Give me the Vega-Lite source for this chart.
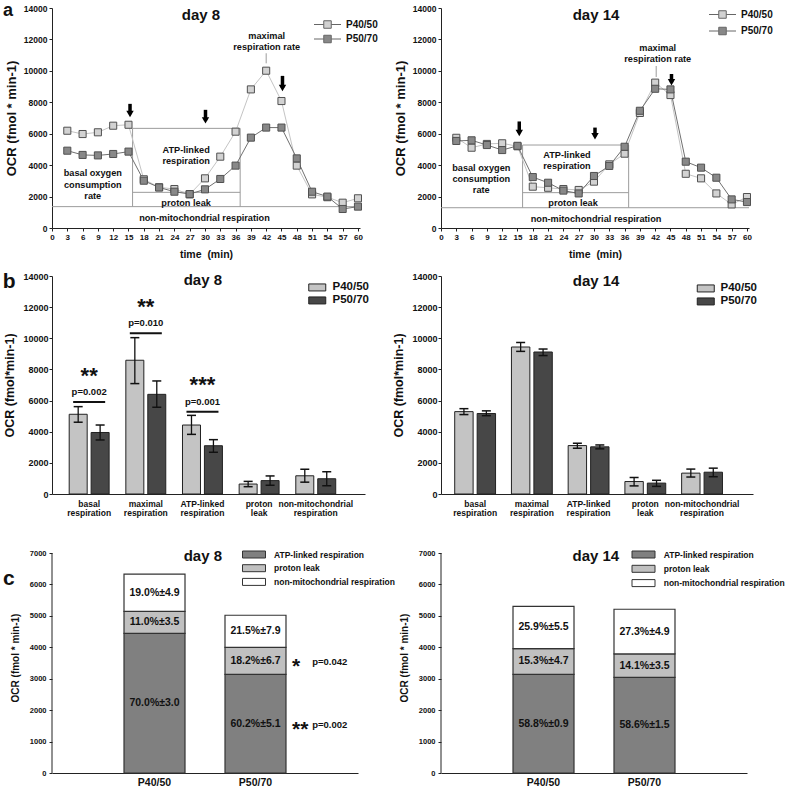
{
  "$schema": "https://vega.github.io/schema/vega-lite/v6.json",
  "padding": {"left": 2, "top": 2, "right": 2, "bottom": 2},
  "background": "white",
  "config": {
    "view": {"stroke": null},
    "font": "Liberation Sans",
    "axis": {"grid": false, "labelFontWeight": "bold", "titleFontWeight": "bold", "labelColor": "#111", "titleColor": "#111", "domainColor": "#222", "tickColor": "#222", "labelFlush": false, "labelOverlap": false, "labelFont": "Liberation Sans", "titleFont": "Liberation Sans"},
    "legend": {"labelFontWeight": "bold", "labelFont": "Liberation Sans", "labelColor": "#111", "padding": 0},
    "text": {"font": "Liberation Sans", "fontWeight": "bold", "color": "#111"}
  },
  "datasets": {
    "lines": [
      {"d":"day 8","g":"P40/50","t":3,"v":6190},{"d":"day 8","g":"P40/50","t":6,"v":5980},{"d":"day 8","g":"P40/50","t":9,"v":6090},{"d":"day 8","g":"P40/50","t":12,"v":6510},{"d":"day 8","g":"P40/50","t":15,"v":6570},{"d":"day 8","g":"P40/50","t":18,"v":3100},{"d":"day 8","g":"P40/50","t":21,"v":2590},{"d":"day 8","g":"P40/50","t":24,"v":2480},{"d":"day 8","g":"P40/50","t":27,"v":2140},{"d":"day 8","g":"P40/50","t":30,"v":3160},{"d":"day 8","g":"P40/50","t":33,"v":4540},{"d":"day 8","g":"P40/50","t":36,"v":6130},{"d":"day 8","g":"P40/50","t":39,"v":8820},{"d":"day 8","g":"P40/50","t":42,"v":10010},{"d":"day 8","g":"P40/50","t":45,"v":8080},{"d":"day 8","g":"P40/50","t":48,"v":3970},{"d":"day 8","g":"P40/50","t":51,"v":2140},{"d":"day 8","g":"P40/50","t":54,"v":1960},{"d":"day 8","g":"P40/50","t":57,"v":1610},{"d":"day 8","g":"P40/50","t":60,"v":1890},
      {"d":"day 8","g":"P50/70","t":3,"v":4920},{"d":"day 8","g":"P50/70","t":6,"v":4650},{"d":"day 8","g":"P50/70","t":9,"v":4620},{"d":"day 8","g":"P50/70","t":12,"v":4710},{"d":"day 8","g":"P50/70","t":15,"v":4860},{"d":"day 8","g":"P50/70","t":18,"v":3010},{"d":"day 8","g":"P50/70","t":21,"v":2580},{"d":"day 8","g":"P50/70","t":24,"v":2310},{"d":"day 8","g":"P50/70","t":27,"v":2160},{"d":"day 8","g":"P50/70","t":30,"v":2460},{"d":"day 8","g":"P50/70","t":33,"v":3120},{"d":"day 8","g":"P50/70","t":36,"v":3970},{"d":"day 8","g":"P50/70","t":39,"v":5750},{"d":"day 8","g":"P50/70","t":42,"v":6390},{"d":"day 8","g":"P50/70","t":45,"v":6390},{"d":"day 8","g":"P50/70","t":48,"v":4430},{"d":"day 8","g":"P50/70","t":51,"v":2310},{"d":"day 8","g":"P50/70","t":54,"v":2000},{"d":"day 8","g":"P50/70","t":57,"v":1210},{"d":"day 8","g":"P50/70","t":60,"v":1360},
      {"d":"day 14","g":"P40/50","t":3,"v":5740},{"d":"day 14","g":"P40/50","t":6,"v":5110},{"d":"day 14","g":"P40/50","t":9,"v":5350},{"d":"day 14","g":"P40/50","t":12,"v":5390},{"d":"day 14","g":"P40/50","t":15,"v":5200},{"d":"day 14","g":"P40/50","t":18,"v":2630},{"d":"day 14","g":"P40/50","t":21,"v":2560},{"d":"day 14","g":"P40/50","t":24,"v":2480},{"d":"day 14","g":"P40/50","t":27,"v":2420},{"d":"day 14","g":"P40/50","t":30,"v":2950},{"d":"day 14","g":"P40/50","t":33,"v":4050},{"d":"day 14","g":"P40/50","t":36,"v":4730},{"d":"day 14","g":"P40/50","t":39,"v":7320},{"d":"day 14","g":"P40/50","t":42,"v":9250},{"d":"day 14","g":"P40/50","t":45,"v":8460},{"d":"day 14","g":"P40/50","t":48,"v":3450},{"d":"day 14","g":"P40/50","t":51,"v":3160},{"d":"day 14","g":"P40/50","t":54,"v":2200},{"d":"day 14","g":"P40/50","t":57,"v":1500},{"d":"day 14","g":"P40/50","t":60,"v":1970},
      {"d":"day 14","g":"P50/70","t":3,"v":5540},{"d":"day 14","g":"P50/70","t":6,"v":5580},{"d":"day 14","g":"P50/70","t":9,"v":5280},{"d":"day 14","g":"P50/70","t":12,"v":4960},{"d":"day 14","g":"P50/70","t":15,"v":5230},{"d":"day 14","g":"P50/70","t":18,"v":3240},{"d":"day 14","g":"P50/70","t":21,"v":2880},{"d":"day 14","g":"P50/70","t":24,"v":2380},{"d":"day 14","g":"P50/70","t":27,"v":2200},{"d":"day 14","g":"P50/70","t":30,"v":3310},{"d":"day 14","g":"P50/70","t":33,"v":3950},{"d":"day 14","g":"P50/70","t":36,"v":5170},{"d":"day 14","g":"P50/70","t":39,"v":7460},{"d":"day 14","g":"P50/70","t":42,"v":8860},{"d":"day 14","g":"P50/70","t":45,"v":8820},{"d":"day 14","g":"P50/70","t":48,"v":4220},{"d":"day 14","g":"P50/70","t":51,"v":3840},{"d":"day 14","g":"P50/70","t":54,"v":3200},{"d":"day 14","g":"P50/70","t":57,"v":1820},{"d":"day 14","g":"P50/70","t":60,"v":1650}
    ],
    "aLines": [
      {"d":"day 8","x":15.8,"x2":36.9,"y":6340,"y2":6340},{"d":"day 8","x":15.8,"x2":36.9,"y":2270,"y2":2270},{"d":"day 8","x":0,"x2":60.4,"y":1360,"y2":1360},{"d":"day 8","x":15.8,"x2":15.8,"y":1360,"y2":6340},{"d":"day 8","x":36.9,"x2":36.9,"y":1360,"y2":6340},{"d":"day 8","x":42.0,"x2":42.0,"y":10480,"y2":11120},
      {"d":"day 14","x":16.0,"x2":36.8,"y":5280,"y2":5280},{"d":"day 14","x":16.0,"x2":36.8,"y":2250,"y2":2250},{"d":"day 14","x":0,"x2":60.4,"y":1290,"y2":1290},{"d":"day 14","x":16.0,"x2":16.0,"y":1290,"y2":5280},{"d":"day 14","x":36.8,"x2":36.8,"y":1290,"y2":5280},{"d":"day 14","x":42.2,"x2":42.2,"y":9610,"y2":10310}
    ],
    "arrows": [
      {"d":"day 8","t":15.3,"top":7900,"head":7250},{"d":"day 8","t":30.1,"top":7520,"head":6850},{"d":"day 8","t":45.2,"top":9680,"head":8910},
      {"d":"day 14","t":15.35,"top":6780,"head":6050},{"d":"day 14","t":30.2,"top":6390,"head":5840},{"d":"day 14","t":45.2,"top":9800,"head":9270}
    ],
    "aText": [
      {"d":"day 8","t":42.1,"y":12240,"text":"maximal|respiration rate"},
      {"d":"day 8","t":26.3,"y":4960,"text":"ATP-linked|respiration"},
      {"d":"day 8","t":8.0,"y":3470,"text":"basal oxygen|consumption|rate"},
      {"d":"day 8","t":26.3,"y":1610,"text":"proton leak"},
      {"d":"day 8","t":29.9,"y":617,"text":"non-mitochondrial respiration"},
      {"d":"day 14","t":42.5,"y":11475,"text":"maximal|respiration rate"},
      {"d":"day 14","t":24.7,"y":4670,"text":"ATP-linked|respiration"},
      {"d":"day 14","t":7.9,"y":3820,"text":"basal oxygen|consumption|rate"},
      {"d":"day 14","t":25.9,"y":1590,"text":"proton leak"},
      {"d":"day 14","t":30.4,"y":553,"text":"non-mitochondrial respiration"}
    ],
    "bars": [
      {"d":"day 8","cat":"basal respiration","g":"P40/50","v":5120,"lo":4610,"hi":5610},
      {"d":"day 8","cat":"basal respiration","g":"P50/70","v":3950,"lo":3470,"hi":4430},
      {"d":"day 8","cat":"maximal respiration","g":"P40/50","v":8590,"lo":7090,"hi":10040},
      {"d":"day 8","cat":"maximal respiration","g":"P50/70","v":6400,"lo":5570,"hi":7260},
      {"d":"day 8","cat":"ATP-linked respiration","g":"P40/50","v":4430,"lo":3830,"hi":5050},
      {"d":"day 8","cat":"ATP-linked respiration","g":"P50/70","v":3100,"lo":2680,"hi":3490},
      {"d":"day 8","cat":"proton leak","g":"P40/50","v":640,"lo":470,"hi":810},
      {"d":"day 8","cat":"proton leak","g":"P50/70","v":860,"lo":560,"hi":1160},
      {"d":"day 8","cat":"non-mitochondrial respiration","g":"P40/50","v":1170,"lo":760,"hi":1590},
      {"d":"day 8","cat":"non-mitochondrial respiration","g":"P50/70","v":980,"lo":530,"hi":1430},
      {"d":"day 14","cat":"basal respiration","g":"P40/50","v":5290,"lo":5100,"hi":5480},
      {"d":"day 14","cat":"basal respiration","g":"P50/70","v":5170,"lo":5030,"hi":5340},
      {"d":"day 14","cat":"maximal respiration","g":"P40/50","v":9440,"lo":9160,"hi":9730},
      {"d":"day 14","cat":"maximal respiration","g":"P50/70","v":9120,"lo":8890,"hi":9310},
      {"d":"day 14","cat":"ATP-linked respiration","g":"P40/50","v":3110,"lo":2940,"hi":3260},
      {"d":"day 14","cat":"ATP-linked respiration","g":"P50/70","v":3030,"lo":2900,"hi":3150},
      {"d":"day 14","cat":"proton leak","g":"P40/50","v":800,"lo":520,"hi":1060},
      {"d":"day 14","cat":"proton leak","g":"P50/70","v":700,"lo":490,"hi":880},
      {"d":"day 14","cat":"non-mitochondrial respiration","g":"P40/50","v":1340,"lo":1090,"hi":1600},
      {"d":"day 14","cat":"non-mitochondrial respiration","g":"P50/70","v":1400,"lo":1110,"hi":1660}
    ],
    "sig": [
      {"cat":"basal respiration","ys":7960,"yp":6550,"yl":5910,"stars":"**","p":"p=0.002"},
      {"cat":"maximal respiration","ys":12350,"yp":10960,"yl":10320,"stars":"**","p":"p=0.010"},
      {"cat":"ATP-linked respiration","ys":7370,"yp":5910,"yl":5290,"stars":"***","p":"p=0.001"}
    ],
    "stack": [
      {"d":"day 8","g":"P40/50","comp":"ATP-linked respiration","k":1,"v":4440,"label":"70.0%±3.0"},
      {"d":"day 8","g":"P40/50","comp":"proton leak","k":2,"v":700,"label":"11.0%±3.5"},
      {"d":"day 8","g":"P40/50","comp":"non-mitochondrial respiration","k":3,"v":1190,"label":"19.0%±4.9"},
      {"d":"day 8","g":"P50/70","comp":"ATP-linked respiration","k":1,"v":3140,"label":"60.2%±5.1"},
      {"d":"day 8","g":"P50/70","comp":"proton leak","k":2,"v":860,"label":"18.2%±6.7"},
      {"d":"day 8","g":"P50/70","comp":"non-mitochondrial respiration","k":3,"v":1020,"label":"21.5%±7.9"},
      {"d":"day 14","g":"P40/50","comp":"ATP-linked respiration","k":1,"v":3140,"label":"58.8%±0.9"},
      {"d":"day 14","g":"P40/50","comp":"proton leak","k":2,"v":820,"label":"15.3%±4.7"},
      {"d":"day 14","g":"P40/50","comp":"non-mitochondrial respiration","k":3,"v":1340,"label":"25.9%±5.5"},
      {"d":"day 14","g":"P50/70","comp":"ATP-linked respiration","k":1,"v":3040,"label":"58.6%±1.5"},
      {"d":"day 14","g":"P50/70","comp":"proton leak","k":2,"v":750,"label":"14.1%±3.5"},
      {"d":"day 14","g":"P50/70","comp":"non-mitochondrial respiration","k":3,"v":1420,"label":"27.3%±4.9"}
    ],
    "cSig": [
      {"g":"P50/70","y":3530,"stars":"*","p":"p=0.042"},
      {"g":"P50/70","y":1540,"stars":"**","p":"p=0.002"}
    ]
  },
  "columns": 2,
  "spacing": {"row": 48, "column": 76},
  "bounds": "flush",
  "resolve": {"scale": {"x": "independent", "y": "independent", "color": "independent", "fill": "independent", "stroke": "independent", "xOffset": "independent"}, "legend": {"color": "independent", "fill": "independent", "stroke": "independent"}},
  "concat": [
    {
      "width": 308, "height": 220,
      "layer": [
        {"data": {"name": "aLines"}, "transform": [{"filter": "datum.d === 'day 8'"}],
         "mark": {"type": "rule", "color": "#9c9c9c", "strokeWidth": 1},
         "encoding": {
           "x": {"field": "x", "type": "quantitative", "scale": {"domain": [0, 60.4], "nice": false, "zero": false}, "axis": {"values": [0,3,6,9,12,15,18,21,24,27,30,33,36,39,42,45,48,51,54,57,60], "tickCount": 40, "format": "d", "labelOverlap": false, "title": "time \u00a0(min)", "labelFontSize": 8, "titleFontSize": 10.5, "tickSize": 3, "labelPadding": 2, "titlePadding": 8}},
           "x2": {"field": "x2"},
           "y": {"field": "y", "type": "quantitative", "scale": {"domain": [0, 14000], "nice": false}, "axis": {"values": [0,2000,4000,6000,8000,10000,12000,14000], "tickCount": 20, "format": "d", "labelOverlap": false, "title": "OCR (fmol * min-1)", "labelFontSize": 8.5, "titleFontSize": 13, "tickSize": 3, "labelPadding": 2, "titlePadding": 5}},
           "y2": {"field": "y2"}
         }},
        {"data": {"name": "lines"}, "transform": [{"filter": "datum.d === 'day 8'"}],
         "mark": {"type": "line", "strokeWidth": 1},
         "encoding": {"x": {"field": "t", "type": "quantitative"}, "y": {"field": "v", "type": "quantitative"},
           "stroke": {"field": "g", "type": "nominal", "scale": {"range": ["#c4c4c4","#707070"]}, "legend": null}}},
        {"data": {"name": "lines"}, "transform": [{"filter": "datum.d === 'day 8'"}],
         "mark": {"type": "point", "shape": "square", "filled": true, "size": 50, "opacity": 1, "stroke": "#505050", "strokeWidth": 1},
         "encoding": {"x": {"field": "t", "type": "quantitative"}, "y": {"field": "v", "type": "quantitative"},
           "color": {"field": "g", "type": "nominal", "scale": {"domain": ["P40/50","P50/70"], "range": ["#d2d2d2","#888888"]},
             "legend": {"title": null, "orient": "none", "legendX": 270, "legendY": 11, "symbolType": "M-2.7,0H-0.75M0.75,0H2.7M-0.75,-0.75H0.75V0.75H-0.75Z", "symbolSize": 100, "symbolStrokeColor": "#666", "symbolStrokeWidth": 1, "labelFontSize": 10, "labelOffset": 13, "rowPadding": 1.5}}}},
        {"data": {"name": "arrows"}, "transform": [{"filter": "datum.d === 'day 8'"}],
         "mark": {"type": "rule", "color": "#000", "strokeWidth": 3.5},
         "encoding": {"x": {"field": "t", "type": "quantitative"}, "y": {"field": "top", "type": "quantitative"}, "y2": {"field": "head"}}},
        {"data": {"name": "arrows"}, "transform": [{"filter": "datum.d === 'day 8'"}],
         "mark": {"type": "point", "shape": "triangle-down", "filled": true, "size": 55, "color": "#000", "opacity": 1},
         "encoding": {"x": {"field": "t", "type": "quantitative"}, "y": {"field": "head", "type": "quantitative"}}},
        {"data": {"name": "aText"}, "transform": [{"filter": "datum.d === 'day 8'"}],
         "mark": {"type": "text", "fontSize": 9.2, "fontWeight": "bold", "lineBreak": "|", "lineHeight": 11.2, "align": "center", "baseline": "middle"},
         "encoding": {"x": {"field": "t", "type": "quantitative"}, "y": {"field": "y", "type": "quantitative"}, "text": {"field": "text"}}},
        {"data": {"values": [{}]},
         "mark": {"type": "text", "fontSize": 18, "fontWeight": "bold", "align": "left", "baseline": "alphabetic"},
         "encoding": {"x": {"datum": -9.6}, "y": {"datum": 13460}, "text": {"value": "a"}}},
        {"data": {"values": [{}]},
         "mark": {"type": "text", "fontSize": 15, "fontWeight": "bold", "align": "center", "baseline": "middle"},
         "encoding": {"x": {"datum": 29.2}, "y": {"datum": 13555}, "text": {"value": "day 8"}}}
      ]
    },
    {
      "width": 308, "height": 220,
      "layer": [
        {"data": {"name": "aLines"}, "transform": [{"filter": "datum.d === 'day 14'"}],
         "mark": {"type": "rule", "color": "#9c9c9c", "strokeWidth": 1},
         "encoding": {
           "x": {"field": "x", "type": "quantitative", "scale": {"domain": [0, 60.4], "nice": false, "zero": false}, "axis": {"values": [0,3,6,9,12,15,18,21,24,27,30,33,36,39,42,45,48,51,54,57,60], "tickCount": 40, "format": "d", "labelOverlap": false, "title": "time \u00a0(min)", "labelFontSize": 8, "titleFontSize": 10.5, "tickSize": 3, "labelPadding": 2, "titlePadding": 8}},
           "x2": {"field": "x2"},
           "y": {"field": "y", "type": "quantitative", "scale": {"domain": [0, 14000], "nice": false}, "axis": {"values": [0,2000,4000,6000,8000,10000,12000,14000], "tickCount": 20, "format": "d", "labelOverlap": false, "title": "OCR (fmol * min-1)", "labelFontSize": 8.5, "titleFontSize": 13, "tickSize": 3, "labelPadding": 2, "titlePadding": 5}},
           "y2": {"field": "y2"}
         }},
        {"data": {"name": "lines"}, "transform": [{"filter": "datum.d === 'day 14'"}],
         "mark": {"type": "line", "strokeWidth": 1},
         "encoding": {"x": {"field": "t", "type": "quantitative"}, "y": {"field": "v", "type": "quantitative"},
           "stroke": {"field": "g", "type": "nominal", "scale": {"range": ["#c4c4c4","#707070"]}, "legend": null}}},
        {"data": {"name": "lines"}, "transform": [{"filter": "datum.d === 'day 14'"}],
         "mark": {"type": "point", "shape": "square", "filled": true, "size": 50, "opacity": 1, "stroke": "#505050", "strokeWidth": 1},
         "encoding": {"x": {"field": "t", "type": "quantitative"}, "y": {"field": "v", "type": "quantitative"},
           "color": {"field": "g", "type": "nominal", "scale": {"domain": ["P40/50","P50/70"], "range": ["#d2d2d2","#888888"]},
             "legend": {"title": null, "orient": "none", "legendX": 276, "legendY": 1, "symbolType": "M-2.7,0H-0.75M0.75,0H2.7M-0.75,-0.75H0.75V0.75H-0.75Z", "symbolSize": 100, "symbolStrokeColor": "#666", "symbolStrokeWidth": 1, "labelFontSize": 10, "labelOffset": 13, "rowPadding": 3.5}}}},
        {"data": {"name": "arrows"}, "transform": [{"filter": "datum.d === 'day 14'"}],
         "mark": {"type": "rule", "color": "#000", "strokeWidth": 3.5},
         "encoding": {"x": {"field": "t", "type": "quantitative"}, "y": {"field": "top", "type": "quantitative"}, "y2": {"field": "head"}}},
        {"data": {"name": "arrows"}, "transform": [{"filter": "datum.d === 'day 14'"}],
         "mark": {"type": "point", "shape": "triangle-down", "filled": true, "size": 55, "color": "#000", "opacity": 1},
         "encoding": {"x": {"field": "t", "type": "quantitative"}, "y": {"field": "head", "type": "quantitative"}}},
        {"data": {"name": "aText"}, "transform": [{"filter": "datum.d === 'day 14'"}],
         "mark": {"type": "text", "fontSize": 9.2, "fontWeight": "bold", "lineBreak": "|", "lineHeight": 11.2, "align": "center", "baseline": "middle"},
         "encoding": {"x": {"field": "t", "type": "quantitative"}, "y": {"field": "y", "type": "quantitative"}, "text": {"field": "text"}}},
        {"data": {"values": [{}]},
         "mark": {"type": "text", "fontSize": 15, "fontWeight": "bold", "align": "center", "baseline": "middle"},
         "encoding": {"x": {"datum": 30.4}, "y": {"datum": 13555}, "text": {"value": "day 14"}}}
      ]
    },
    {
      "width": 313, "height": 218,
      "resolve": {"scale": {"x": "independent"}},
      "layer": [
        {"layer": [
          {"data": {"name": "bars"}, "transform": [{"filter": "datum.d === 'day 8'"}],
           "mark": {"type": "bar", "stroke": "#222", "strokeWidth": 1},
           "encoding": {
             "x": {"field": "cat", "type": "nominal", "sort": ["basal respiration","maximal respiration","ATP-linked respiration","proton leak","non-mitochondrial respiration"], "scale": {"domain": ["basal respiration","maximal respiration","ATP-linked respiration","proton leak","non-mitochondrial respiration"], "paddingInner": 0.295, "paddingOuter": 0.41, "align": 0.37}, "axis": {"title": null, "labelExpr": "split(datum.label, ' ')", "labelAngle": 0, "ticks": false, "labelFontSize": 8.5, "labelLineHeight": 9.5, "labelPadding": 5, "labelBaseline": "top"}},
             "xOffset": {"field": "g", "type": "nominal", "scale": {"domain": ["P40/50","P50/70"], "paddingInner": 0.18, "paddingOuter": 0}},
             "y": {"field": "v", "type": "quantitative", "scale": {"domain": [0, 14000], "nice": false}, "axis": {"values": [0,2000,4000,6000,8000,10000,12000,14000], "tickCount": 20, "format": "d", "labelOverlap": false, "title": "OCR (fmol*min-1)", "labelFontSize": 9, "titleFontSize": 12.5, "tickSize": 3, "labelPadding": 1, "titlePadding": 6}},
             "color": {"field": "g", "type": "nominal", "scale": {"domain": ["P40/50","P50/70"], "range": ["#c4c4c4","#474747"]},
               "legend": {"title": null, "orient": "none", "legendX": 259.5, "legendY": 5.7, "symbolType": "M-1.7,-0.7H1.7V0.7H-1.7Z", "symbolSize": 100, "symbolStrokeColor": "#222", "symbolStrokeWidth": 1, "labelFontSize": 11.5, "labelOffset": 9.5, "rowPadding": 0}}
           }},
          {"data": {"name": "bars"}, "transform": [{"filter": "datum.d === 'day 8'"}],
           "mark": {"type": "rule", "color": "#111", "strokeWidth": 1.3},
           "encoding": {"x": {"field": "cat", "type": "nominal"}, "xOffset": {"field": "g", "type": "nominal"}, "y": {"field": "lo", "type": "quantitative"}, "y2": {"field": "hi"}}},
          {"data": {"name": "bars"}, "transform": [{"filter": "datum.d === 'day 8'"}, {"fold": ["lo","hi"], "as": ["kind","yv"]}],
           "mark": {"type": "tick", "orient": "horizontal", "size": 9, "thickness": 1.5, "color": "#111", "opacity": 1},
           "encoding": {"x": {"field": "cat", "type": "nominal"}, "xOffset": {"field": "g", "type": "nominal"}, "y": {"field": "yv", "type": "quantitative"}}},
          {"data": {"name": "sig"},
           "mark": {"type": "tick", "orient": "horizontal", "size": 32, "thickness": 2, "color": "#111", "opacity": 1},
           "encoding": {"x": {"field": "cat", "type": "nominal"}, "y": {"field": "yl", "type": "quantitative"}}},
          {"data": {"name": "sig"},
           "mark": {"type": "text", "fontSize": 9.5, "fontWeight": "bold", "align": "center", "baseline": "middle"},
           "encoding": {"x": {"field": "cat", "type": "nominal"}, "y": {"field": "yp", "type": "quantitative"}, "text": {"field": "p"}}},
          {"data": {"name": "sig"},
           "mark": {"type": "text", "fontSize": 22, "fontWeight": "bold", "align": "center", "baseline": "alphabetic", "dy": 12.5},
           "encoding": {"x": {"field": "cat", "type": "nominal"}, "y": {"field": "ys", "type": "quantitative"}, "text": {"field": "stars"}}}
        ]},
        {"data": {"values": [{}]},
         "layer": [
           {"mark": {"type": "text", "fontSize": 21, "fontWeight": "bold", "align": "left", "baseline": "alphabetic"},
            "encoding": {"x": {"datum": -0.157, "type": "quantitative", "scale": {"domain": [0, 1], "nice": false, "zero": false}, "axis": null}, "y": {"datum": 13250}, "text": {"value": "b"}}},
           {"mark": {"type": "text", "fontSize": 15, "fontWeight": "bold", "align": "center", "baseline": "middle"},
            "encoding": {"x": {"datum": 0.482, "type": "quantitative", "scale": {"domain": [0, 1], "nice": false, "zero": false}, "axis": null}, "y": {"datum": 13740}, "text": {"value": "day 8"}}}
         ]}
      ]
    },
    {
      "width": 312, "height": 218,
      "resolve": {"scale": {"x": "independent"}},
      "layer": [
        {"layer": [
          {"data": {"name": "bars"}, "transform": [{"filter": "datum.d === 'day 14'"}],
           "mark": {"type": "bar", "stroke": "#222", "strokeWidth": 1},
           "encoding": {
             "x": {"field": "cat", "type": "nominal", "sort": ["basal respiration","maximal respiration","ATP-linked respiration","proton leak","non-mitochondrial respiration"], "scale": {"domain": ["basal respiration","maximal respiration","ATP-linked respiration","proton leak","non-mitochondrial respiration"], "paddingInner": 0.28, "paddingOuter": 0.39, "align": 0.31}, "axis": {"title": null, "labelExpr": "split(datum.label, ' ')", "labelAngle": 0, "ticks": false, "labelFontSize": 8.5, "labelLineHeight": 9.5, "labelPadding": 5, "labelBaseline": "top"}},
             "xOffset": {"field": "g", "type": "nominal", "scale": {"domain": ["P40/50","P50/70"], "paddingInner": 0.18, "paddingOuter": 0}},
             "y": {"field": "v", "type": "quantitative", "scale": {"domain": [0, 14000], "nice": false}, "axis": {"values": [0,2000,4000,6000,8000,10000,12000,14000], "tickCount": 20, "format": "d", "labelOverlap": false, "title": "OCR (fmol*min-1)", "labelFontSize": 9, "titleFontSize": 12.5, "tickSize": 3, "labelPadding": 1, "titlePadding": 6}},
             "color": {"field": "g", "type": "nominal", "scale": {"domain": ["P40/50","P50/70"], "range": ["#c4c4c4","#474747"]},
               "legend": {"title": null, "orient": "none", "legendX": 259, "legendY": 6.7, "symbolType": "M-1.7,-0.7H1.7V0.7H-1.7Z", "symbolSize": 100, "symbolStrokeColor": "#222", "symbolStrokeWidth": 1, "labelFontSize": 11.5, "labelOffset": 9, "rowPadding": 0}}
           }},
          {"data": {"name": "bars"}, "transform": [{"filter": "datum.d === 'day 14'"}],
           "mark": {"type": "rule", "color": "#111", "strokeWidth": 1.3},
           "encoding": {"x": {"field": "cat", "type": "nominal"}, "xOffset": {"field": "g", "type": "nominal"}, "y": {"field": "lo", "type": "quantitative"}, "y2": {"field": "hi"}}},
          {"data": {"name": "bars"}, "transform": [{"filter": "datum.d === 'day 14'"}, {"fold": ["lo","hi"], "as": ["kind","yv"]}],
           "mark": {"type": "tick", "orient": "horizontal", "size": 9, "thickness": 1.5, "color": "#111", "opacity": 1},
           "encoding": {"x": {"field": "cat", "type": "nominal"}, "xOffset": {"field": "g", "type": "nominal"}, "y": {"field": "yv", "type": "quantitative"}}}
        ]},
        {"data": {"values": [{}]},
         "layer": [
           {"mark": {"type": "text", "fontSize": 15, "fontWeight": "bold", "align": "center", "baseline": "middle"},
            "encoding": {"x": {"datum": 0.497, "type": "quantitative", "scale": {"domain": [0, 1], "nice": false, "zero": false}, "axis": null}, "y": {"datum": 13680}, "text": {"value": "day 14"}}}
         ]}
      ]
    },
    {
      "width": 306, "height": 231,
      "resolve": {"scale": {"x": "independent"}},
      "layer": [
        {"layer": [
          {"data": {"name": "stack"}, "transform": [{"filter": "datum.d === 'day 8'"}, {"stack": "v", "groupby": ["g"], "sort": [{"field": "k", "order": "ascending"}], "as": ["v0","v1"]}],
           "mark": {"type": "bar", "stroke": "#333", "strokeWidth": 1.2},
           "encoding": {
             "x": {"field": "g", "type": "nominal", "scale": {"domain": ["P40/50","P50/70"], "paddingInner": 0.396, "paddingOuter": 0.713}, "axis": {"title": null, "labelAngle": 0, "ticks": false, "labelFontSize": 10.5, "labelPadding": 4}},
             "y": {"field": "v1", "type": "quantitative", "scale": {"domain": [0, 7350], "nice": false}, "axis": {"values": [0,1000,2000,3000,4000,5000,6000,7000], "tickCount": 20, "format": "d", "labelOverlap": false, "domain": false, "title": "OCR (fmol * min-1)", "labelFontSize": 7.5, "titleFontSize": 10, "tickSize": 3, "labelPadding": 3, "titlePadding": 9}},
             "y2": {"field": "v0"},
             "color": {"field": "comp", "type": "nominal", "scale": {"domain": ["ATP-linked respiration","proton leak","non-mitochondrial respiration"], "range": ["#808080","#c0c0c0","#ffffff"]},
               "legend": {"title": null, "orient": "none", "legendX": 196.5, "legendY": 7, "symbolType": "M-2.3,-0.7H2.3V0.7H-2.3Z", "symbolSize": 100, "symbolStrokeColor": "#333", "symbolStrokeWidth": 1, "labelFontSize": 8.5, "labelOffset": 14.5, "rowPadding": 2.7, "labelLimit": 300}}
           }},
          {"data": {"name": "stack"}, "transform": [{"filter": "datum.d === 'day 8'"}, {"stack": "v", "groupby": ["g"], "sort": [{"field": "k", "order": "ascending"}], "as": ["v0","v1"]}, {"fold": ["v0","v1"], "as": ["end","pos"]}, {"aggregate": [{"op": "mean", "field": "pos", "as": "mid"}], "groupby": ["g","comp","label"]}],
           "mark": {"type": "text", "fontSize": 10.5, "fontWeight": "bold", "align": "center", "baseline": "middle"},
           "encoding": {"x": {"field": "g", "type": "nominal"}, "y": {"field": "mid", "type": "quantitative"}, "text": {"field": "label"}}},
          {"data": {"name": "cSig"},
           "mark": {"type": "text", "fontSize": 21, "fontWeight": "bold", "align": "left", "baseline": "alphabetic", "dy": 11},
           "encoding": {"x": {"field": "g", "type": "nominal", "bandPosition": 1.1}, "y": {"field": "y", "type": "quantitative"}, "text": {"field": "stars"}}},
          {"data": {"name": "cSig"},
           "mark": {"type": "text", "fontSize": 9.5, "fontWeight": "bold", "align": "left", "baseline": "middle"},
           "encoding": {"x": {"field": "g", "type": "nominal", "bandPosition": 1.43}, "y": {"field": "y", "type": "quantitative"}, "text": {"field": "p"}}}
        ]},
        {"data": {"values": [{}]},
         "layer": [
           {"mark": {"type": "text", "fontSize": 21, "fontWeight": "bold", "align": "left", "baseline": "alphabetic"},
            "encoding": {"x": {"datum": -0.16, "type": "quantitative", "scale": {"domain": [0, 1], "nice": false, "zero": false}, "axis": null}, "y": {"datum": 5980}, "text": {"value": "c"}}},
           {"mark": {"type": "text", "fontSize": 15, "fontWeight": "bold", "align": "center", "baseline": "middle"},
            "encoding": {"x": {"datum": 0.493, "type": "quantitative", "scale": {"domain": [0, 1], "nice": false, "zero": false}, "axis": null}, "y": {"datum": 6904}, "text": {"value": "day 8"}}},
           {"mark": {"type": "rule", "color": "#222", "strokeWidth": 1},
            "encoding": {"x": {"datum": 0, "type": "quantitative", "scale": {"domain": [0, 1], "nice": false, "zero": false}, "axis": null}, "y": {"datum": 0}, "y2": {"datum": 7000}}}
         ]}
      ]
    },
    {
      "width": 306, "height": 231,
      "resolve": {"scale": {"x": "independent"}},
      "layer": [
        {"layer": [
          {"data": {"name": "stack"}, "transform": [{"filter": "datum.d === 'day 14'"}, {"stack": "v", "groupby": ["g"], "sort": [{"field": "k", "order": "ascending"}], "as": ["v0","v1"]}],
           "mark": {"type": "bar", "stroke": "#333", "strokeWidth": 1.2},
           "encoding": {
             "x": {"field": "g", "type": "nominal", "scale": {"domain": ["P40/50","P50/70"], "paddingInner": 0.396, "paddingOuter": 0.713}, "axis": {"title": null, "labelAngle": 0, "ticks": false, "labelFontSize": 10.5, "labelPadding": 4}},
             "y": {"field": "v1", "type": "quantitative", "scale": {"domain": [0, 7350], "nice": false}, "axis": {"values": [0,1000,2000,3000,4000,5000,6000,7000], "tickCount": 20, "format": "d", "labelOverlap": false, "domain": false, "title": "OCR (fmol * min-1)", "labelFontSize": 7.5, "titleFontSize": 10, "tickSize": 3, "labelPadding": 3, "titlePadding": 9}},
             "y2": {"field": "v0"},
             "color": {"field": "comp", "type": "nominal", "scale": {"domain": ["ATP-linked respiration","proton leak","non-mitochondrial respiration"], "range": ["#808080","#c0c0c0","#ffffff"]},
               "legend": {"title": null, "orient": "none", "legendX": 197, "legendY": 7, "symbolType": "M-2.3,-0.7H2.3V0.7H-2.3Z", "symbolSize": 100, "symbolStrokeColor": "#333", "symbolStrokeWidth": 1, "labelFontSize": 8.5, "labelOffset": 14.7, "rowPadding": 3.3, "labelLimit": 300}}
           }},
          {"data": {"name": "stack"}, "transform": [{"filter": "datum.d === 'day 14'"}, {"stack": "v", "groupby": ["g"], "sort": [{"field": "k", "order": "ascending"}], "as": ["v0","v1"]}, {"fold": ["v0","v1"], "as": ["end","pos"]}, {"aggregate": [{"op": "mean", "field": "pos", "as": "mid"}], "groupby": ["g","comp","label"]}],
           "mark": {"type": "text", "fontSize": 10.5, "fontWeight": "bold", "align": "center", "baseline": "middle"},
           "encoding": {"x": {"field": "g", "type": "nominal"}, "y": {"field": "mid", "type": "quantitative"}, "text": {"field": "label"}}}
        ]},
        {"data": {"values": [{}]},
         "layer": [
           {"mark": {"type": "text", "fontSize": 15, "fontWeight": "bold", "align": "center", "baseline": "middle"},
            "encoding": {"x": {"datum": 0.506, "type": "quantitative", "scale": {"domain": [0, 1], "nice": false, "zero": false}, "axis": null}, "y": {"datum": 6904}, "text": {"value": "day 14"}}},
           {"mark": {"type": "rule", "color": "#222", "strokeWidth": 1},
            "encoding": {"x": {"datum": 0, "type": "quantitative", "scale": {"domain": [0, 1], "nice": false, "zero": false}, "axis": null}, "y": {"datum": 0}, "y2": {"datum": 7000}}}
         ]}
      ]
    }
  ]
}
